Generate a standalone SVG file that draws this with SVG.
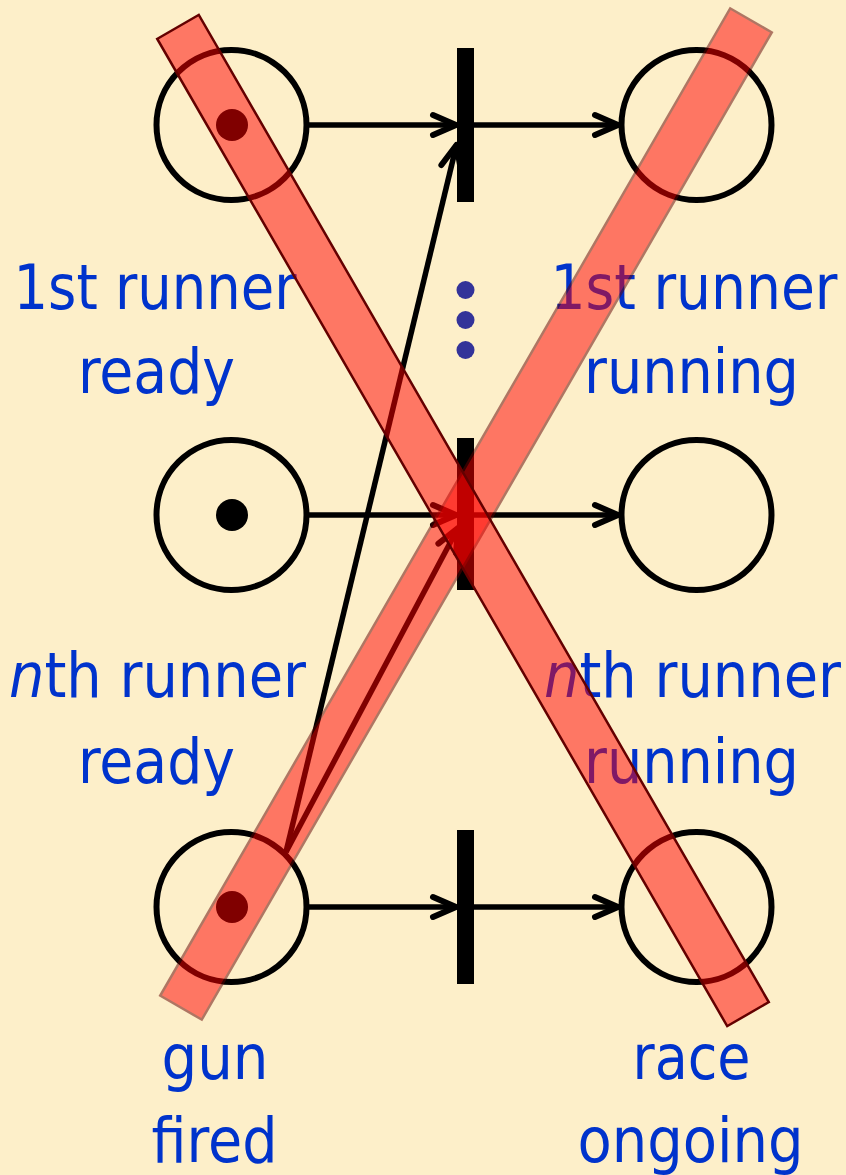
<svg xmlns="http://www.w3.org/2000/svg" width="846" height="1175" viewBox="0 0 846 1175">
  <style>
    .place { fill: none; stroke: #000; stroke-width: 6; }
    .token { fill: #000; }
    .trans { fill: #000; }
    .lbl { font-family: "DejaVu Sans Condensed", "DejaVu Sans", sans-serif; font-size: 63px; fill: #0033CC; text-anchor: middle; }
    .arc { fill: none; stroke: #000; stroke-width: 5.5; stroke-linecap: butt; marker-end: url(#arrow); }
    .dot { fill: #333399; }
    .barA { fill: #FF0000; fill-opacity: 0.5; stroke: #640000; stroke-width: 2.5; }
    .barB { fill: #FF0000; stroke: #640000; stroke-width: 2.5; }
  </style>
  <defs>
    <marker id="arrow" markerUnits="userSpaceOnUse" orient="auto" refX="0" refY="0" markerWidth="40" markerHeight="40" overflow="visible">
      <path d="M-23,-10 L0,0 L-23,10" fill="none" stroke="#000" stroke-width="6" stroke-linecap="round" stroke-linejoin="round"/>
    </marker>
  </defs>
  <rect x="0" y="0" width="846" height="1175" fill="#FDEFC9"/>

  <g id="p1-runner1-ready">
    <circle class="place" cx="231.5" cy="125" r="75"/>
    <circle class="token" cx="232" cy="125" r="16"/>
    <text class="lbl" x="155" y="309" textLength="283" lengthAdjust="spacingAndGlyphs">1st runner</text>
    <text class="lbl" x="156.5" y="393" textLength="157" lengthAdjust="spacingAndGlyphs">ready</text>
  </g>
  <g id="p2-runnern-ready">
    <circle class="place" cx="231.5" cy="515" r="75"/>
    <circle class="token" cx="232" cy="515" r="16"/>
    <text class="lbl" x="157.5" y="697" textLength="297" lengthAdjust="spacingAndGlyphs"><tspan font-style="italic">n</tspan>th runner</text>
    <text class="lbl" x="156.5" y="783" textLength="157" lengthAdjust="spacingAndGlyphs">ready</text>
  </g>
  <g id="p3-gun-fired">
    <circle class="place" cx="231.5" cy="907" r="75"/>
    <circle class="token" cx="232" cy="907" r="16"/>
    <text class="lbl" x="215" y="1079" textLength="107" lengthAdjust="spacingAndGlyphs">gun</text>
    <text class="lbl" x="214.5" y="1162" textLength="126" lengthAdjust="spacingAndGlyphs">fired</text>
  </g>
  <g id="p4-runner1-running">
    <circle class="place" cx="696.5" cy="125" r="75"/>
    <text class="lbl" x="694" y="309" textLength="287" lengthAdjust="spacingAndGlyphs">1st runner</text>
    <text class="lbl" x="691.5" y="393" textLength="215" lengthAdjust="spacingAndGlyphs">running</text>
  </g>
  <g id="p5-runnern-running">
    <circle class="place" cx="696.5" cy="515" r="75"/>
    <text class="lbl" x="692.5" y="697" textLength="297" lengthAdjust="spacingAndGlyphs"><tspan font-style="italic">n</tspan>th runner</text>
    <text class="lbl" x="691.5" y="783" textLength="215" lengthAdjust="spacingAndGlyphs">running</text>
  </g>
  <g id="p6-race-ongoing">
    <circle class="place" cx="696.5" cy="907" r="75"/>
    <text class="lbl" x="691.5" y="1079" textLength="118" lengthAdjust="spacingAndGlyphs">race</text>
    <text class="lbl" x="690.5" y="1162" textLength="226" lengthAdjust="spacingAndGlyphs">ongoing</text>
  </g>

  <g id="t1-start1">
    <rect class="trans" x="457" y="48" width="17" height="154"/>
  </g>
  <g id="t-ellipsis">
    <circle class="dot" cx="465.5" cy="290" r="9"/>
    <circle class="dot" cx="465.5" cy="320" r="9"/>
    <circle class="dot" cx="465.5" cy="350" r="9"/>
  </g>
  <g id="t2-startn">
    <rect class="trans" x="457" y="438" width="17" height="152"/>
  </g>
  <g id="t3-race">
    <rect class="trans" x="457" y="830" width="17" height="154"/>
  </g>

  <g id="connectors">
    <line class="arc" x1="309" y1="125" x2="456" y2="125"/>
    <line class="arc" x1="474" y1="125" x2="618" y2="125"/>
    <line class="arc" x1="309" y1="515" x2="456" y2="515"/>
    <line class="arc" x1="474" y1="515" x2="618" y2="515"/>
    <line class="arc" x1="309" y1="907" x2="456" y2="907"/>
    <line class="arc" x1="474" y1="907" x2="618" y2="907"/>
    <line class="arc" x1="286" y1="852" x2="456.5" y2="145"/>
    <line class="arc" x1="286" y1="852" x2="458" y2="528"/>
  </g>

  <g id="cross-out">
    <g opacity="0.5">
      <rect class="barB" x="-570" y="-24" width="1140" height="48" transform="translate(466 514) rotate(-60)"/>
    </g>
    <rect class="barA" x="-570" y="-24" width="1140" height="48" transform="translate(463 520.5) rotate(60)"/>
  </g>
</svg>
